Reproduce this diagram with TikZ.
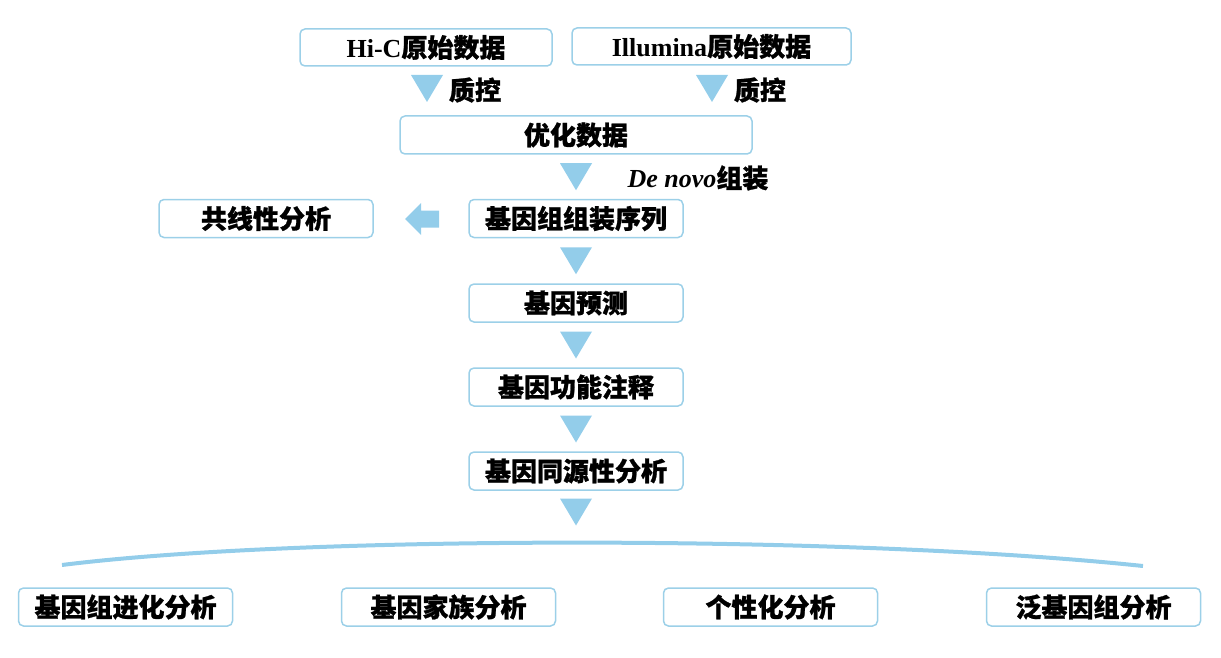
\documentclass[tikz,border=0pt]{standalone}
\usepackage{fontspec}
\setmainfont{Liberation Serif}
\newfontfamily\cjk[BoldFeatures={FakeBold=1}]{Noto Sans CJK SC}
\usetikzlibrary{calc}
\definecolor{boxc}{HTML}{9CD0E8}
\definecolor{tric}{HTML}{93CDEA}
\newcommand{\zh}[1]{{\cjk\bfseries #1}}
\begin{document}
\begin{tikzpicture}[x=1pt,y=-1pt,
  box/.style={draw=boxc, line width=1.5pt, rounded corners=5pt, fill=white,
    minimum width=214pt, minimum height=38pt, inner sep=0pt,
    font=\fontsize{26}{26}\selectfont\bfseries},
  lab/.style={inner sep=0pt, font=\fontsize{26}{26}\selectfont\bfseries},
  downtri/.pic={\fill[tric] (-16,-13.5) -- (16,-13.5) -- (0,13.5) -- cycle;}]
\useasboundingbox (0,0) rectangle (1221,658);
% top boxes
\node[box, minimum width=252pt, minimum height=37pt] (hic) at (426,47.5) {Hi-C\zh{原始数据}};
\node[box, minimum width=279pt, minimum height=37pt] (ill) at (711.5,46.5) {Illumina\zh{原始数据}};
\node[box, minimum width=352pt] (opt) at (576,135) {\zh{优化数据}};
\node[box] (asm) at (576,218.5) {\zh{基因组组装序列}};
\node[box] (syn) at (266,218.5) {\zh{共线性分析}};
\node[box] (pred) at (576,303) {\zh{基因预测}};
\node[box] (anno) at (576,387) {\zh{基因功能注释}};
\node[box] (homo) at (576,471) {\zh{基因同源性分析}};
% bottom boxes
\node[box] (b1) at (125.5,607) {\zh{基因组进化分析}};
\node[box] (b2) at (448.5,607) {\zh{基因家族分析}};
\node[box] (b3) at (770.5,607) {\zh{个性化分析}};
\node[box] (b4) at (1093.5,607) {\zh{泛基因组分析}};
% labels
\node[lab] (qc1) at (475,90) {\zh{质控}};
\node[lab] (qc2) at (760,90) {\zh{质控}};
\node[lab] (dn) at (698,178) {\textit{De novo}\zh{组装}};
% triangles
\pic at (427,88.5) {downtri};
\pic at (712,88.5) {downtri};
\pic at ($(opt.south)!0.5!(asm.north)$) {downtri};
\pic at ($(asm.south)!0.5!(pred.north)$) {downtri};
\pic at ($(pred.south)!0.5!(anno.north)$) {downtri};
\pic at ($(anno.south)!0.5!(homo.north)$) {downtri};
\pic at (576,512) {downtri};
% left block arrow
\fill[tric] (405,219) -- (421,203) -- (421,210.5) -- (439,210.5) -- (439,227.5) -- (421,227.5) -- (421,235) -- cycle;
% arc
\coordinate (al) at (62,565);
\coordinate (ar) at (1143,566);
\draw[tric, line width=4pt] (al) .. controls (300,535) and (850,535) .. (ar);
\end{tikzpicture}
\end{document}
